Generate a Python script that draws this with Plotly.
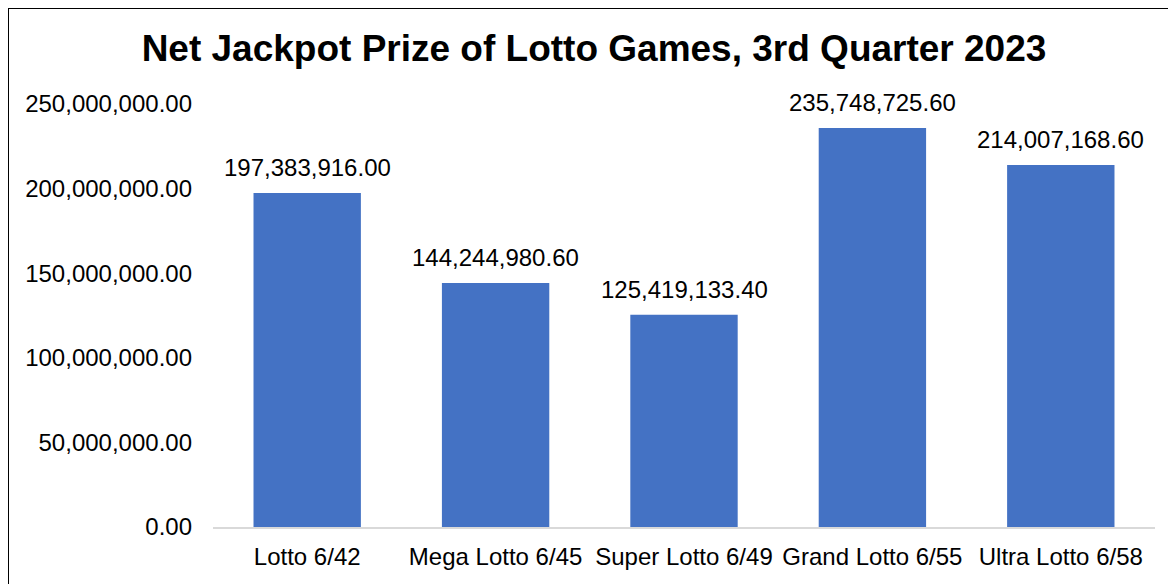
import plotly.graph_objects as go

categories = ["Lotto 6/42", "Mega Lotto 6/45", "Super Lotto 6/49", "Grand Lotto 6/55", "Ultra Lotto 6/58"]
values = [197383916.00, 144244980.60, 125419133.40, 235748725.60, 214007168.60]
tick_vals = [0, 50000000, 100000000, 150000000, 200000000, 250000000]

FONT = "Liberation Sans, Arial"

fig = go.Figure(go.Bar(
    x=categories, y=values,
    marker=dict(color="#4472C4", line=dict(width=0)),
    hoverinfo="x+y",
))

annotations = [
    dict(x=c, y=v, xref="x", yref="y", text=f"{v:,.2f}", showarrow=False,
         yanchor="bottom", yshift=10, font=dict(family=FONT, size=24, color="#000000"))
    for c, v in zip(categories, values)
]

# page body has an 8px margin, so the figure is 8px smaller and offsets are shifted
W, H = 1168, 576
L, R, T, B = 205, 21, 96, 57
PW, PH = W - L - R, H - T - B

fig.update_layout(
    width=W, height=H,
    margin=dict(l=L, r=R, t=T, b=B),
    paper_bgcolor="white", plot_bgcolor="white",
    bargap=0.43,
    showlegend=False,
    title=dict(text="<b>Net Jackpot Prize of Lotto Games, 3rd Quarter 2023</b>",
               x=(594 - 8) / W, xanchor="center", y=1 - 40 / H, yanchor="middle", yref="container",
               font=dict(family=FONT, size=37, color="#000000")),
    font=dict(family=FONT, color="#000000"),
    yaxis=dict(range=[0, 250000000], tickvals=tick_vals, tickformat=",.2f",
               showgrid=False, zeroline=False, showline=False,
               tickfont=dict(size=24, color="#000000"), ticklabelstandoff=20),
    xaxis=dict(showline=True, linecolor="#D9D9D9", linewidth=2, showgrid=False,
               tickfont=dict(size=24, color="#000000"), ticklabelstandoff=7),
    annotations=annotations,
    shapes=[dict(type="rect", xref="paper", yref="paper",
                 x0=(-0.5 - L) / PW, x1=1.2, y0=-0.3, y1=1 + (T + 0.5) / PH,
                 line=dict(color="#000000", width=3), fillcolor="rgba(0,0,0,0)")],
)

fig.write_html("out.html")
